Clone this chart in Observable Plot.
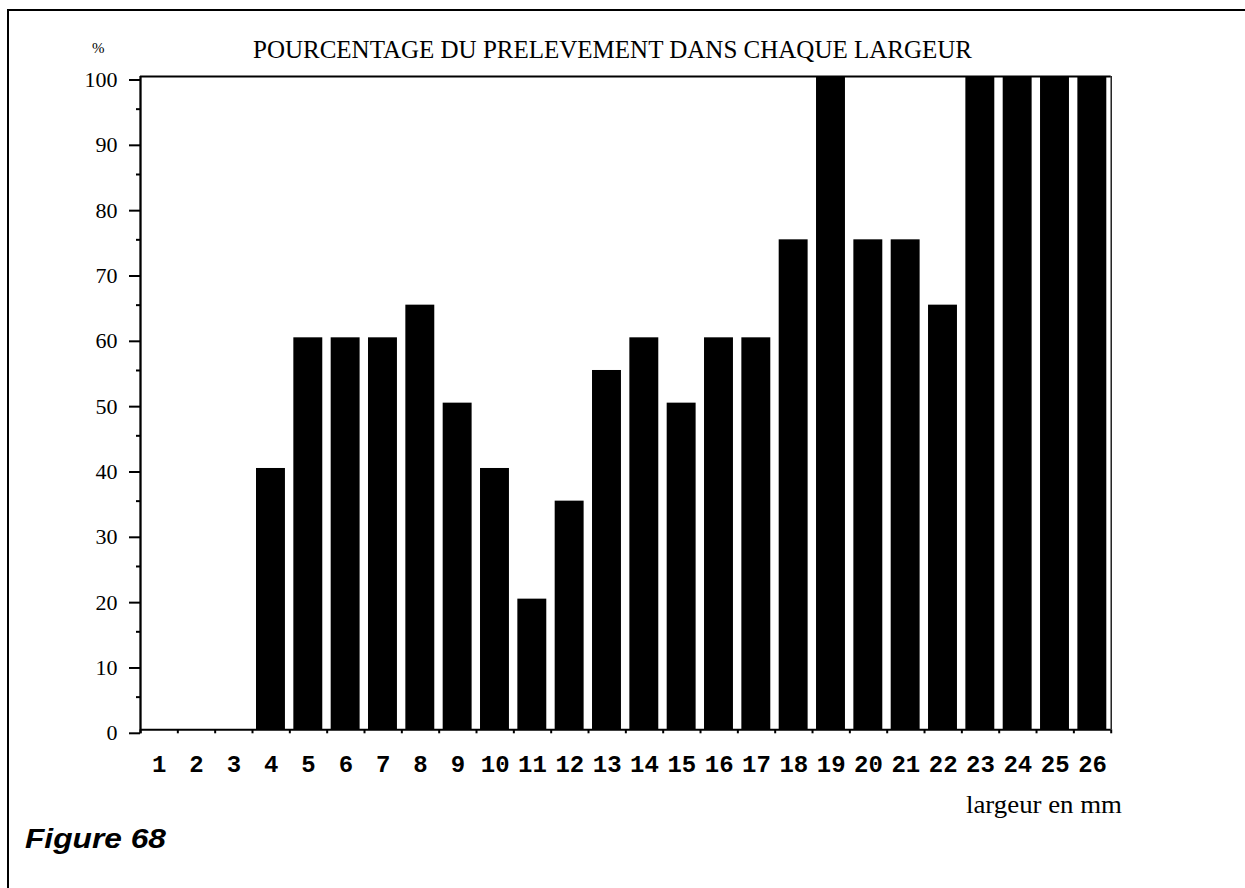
<!DOCTYPE html>
<html>
<head>
<meta charset="utf-8">
<script src="https://cdn.jsdelivr.net/npm/d3@7"></script>
<script src="https://cdn.jsdelivr.net/npm/@observablehq/plot@0.6"></script>
<style>
html, body { margin: 0; padding: 0; background: #fff; overflow: hidden; width: 1245px; height: 888px; }
#page { position: relative; width: 1245px; height: 888px; overflow: hidden; }
#chart { position: absolute; left: 0; top: 0; }
.line { position: absolute; background: #000; pointer-events: none; }
#btop { left: 7px; top: 9px; width: 1238px; height: 2px; }
#bleft { left: 7px; top: 9px; width: 2px; height: 879px; }
.t { position: absolute; white-space: nowrap; color: #000; line-height: 1; transform-origin: 0 0; }
#title { font-family: "Liberation Serif", serif; font-size: 25px; left: 253px; top: 37.4px; }
#pct { font-family: "Liberation Serif", serif; font-size: 15px; left: 92px; top: 41.4px; }
#xlabel { font-family: "Liberation Serif", serif; font-size: 25px; left: 966px; top: 791.8px; }
#fig { font-family: "Liberation Sans", Arial, sans-serif; font-size: 27px; font-weight: bold; font-style: italic; left: 25px; top: 826.4px; }
</style>
</head>
<body>
<div id="page">
  <div id="chart"></div>
  <div class="line" id="btop"></div>
  <div class="line" id="bleft"></div>
  <div class="t" id="pct">%</div>
  <div class="t" id="title">POURCENTAGE DU PRELEVEMENT DANS CHAQUE LARGEUR</div>
  <div class="t" id="xlabel">largeur en mm</div>
  <div class="t" id="fig">Figure 68</div>
</div>
<script>
// ---- data ----
const widths = [1, 2, 3, 4, 5, 6, 7, 8, 9, 10, 11, 12, 13, 14, 15, 16, 17, 18, 19, 20, 21, 22, 23, 24, 25, 26];
const percents = [0, 0, 0, 40, 60, 60, 60, 65, 50, 40, 20, 35, 55, 60, 50, 60, 60, 75, 100, 75, 75, 65, 100, 100, 100, 100];
const yTickLabels = [0, 10, 20, 30, 40, 50, 60, 70, 80, 90, 100];
const yMinorTicks = [5, 15, 25, 35, 45, 55, 65, 75, 85, 95];

const rows = widths.map((w, i) => ({w, p: percents[i]}));
const boundaries = widths.map(w => w - 0.5).concat([widths[widths.length - 1] + 0.5]);

const chart = Plot.plot({
  width: 1245,
  height: 800,
  marginLeft: 140,
  marginRight: 134.3,
  marginTop: 76,
  marginBottom: 70.7,
  style: {background: "transparent", color: "#000"},
  x: {type: "linear", domain: [0.5, 26.5]},
  y: {domain: [0, 100]},
  marks: [
    Plot.rect(rows, {x1: d => d.w - 0.5, x2: d => d.w + 0.5, y1: 0, y2: "p", insetLeft: 4, insetRight: 4.4, fill: "#000"}),
    Plot.ruleY([100], {stroke: "#000", strokeWidth: 2}),
    Plot.ruleX([26.5], {stroke: "#000", strokeWidth: 1.3}),
    Plot.ruleY([0], {stroke: "#000", strokeWidth: 2}),
    Plot.ruleX([0.5], {stroke: "#000", strokeWidth: 2.3, insetBottom: -4}),
    Plot.axisY({ticks: yTickLabels, tickSize: 11, tickPadding: 12, strokeWidth: 2, fontSize: 22, fontFamily: "Liberation Serif", dy: 3.5, label: null, ariaLabel: "y-labels"}),
    Plot.axisY({ticks: yMinorTicks, tickSize: 4, strokeWidth: 2, text: null, label: null}),
    Plot.axisX({ticks: boundaries, tickSize: 4, strokeWidth: 2, text: null, label: null}),
    Plot.axisX({ticks: widths, tickSize: 0, tickPadding: 25, fontSize: 24, fontFamily: "Liberation Mono", fontWeight: "bold", label: null})
  ]
});
document.getElementById("chart").appendChild(chart);

// widen the serif y tick labels slightly to match the reference face
chart.querySelectorAll('g[aria-label="y-axis tick label"] text').forEach(t => {
  const len = t.getComputedTextLength();
  t.setAttribute("textLength", (len * 1.12).toFixed(2));
  t.setAttribute("lengthAdjust", "spacingAndGlyphs");
});

function fit(id, target) {
  const el = document.getElementById(id);
  const w = el.getBoundingClientRect().width;
  el.style.transform = `scaleX(${target / w})`;
}
fit("title", 719);
fit("xlabel", 156);
fit("fig", 141);
</script>
</body>
</html>
